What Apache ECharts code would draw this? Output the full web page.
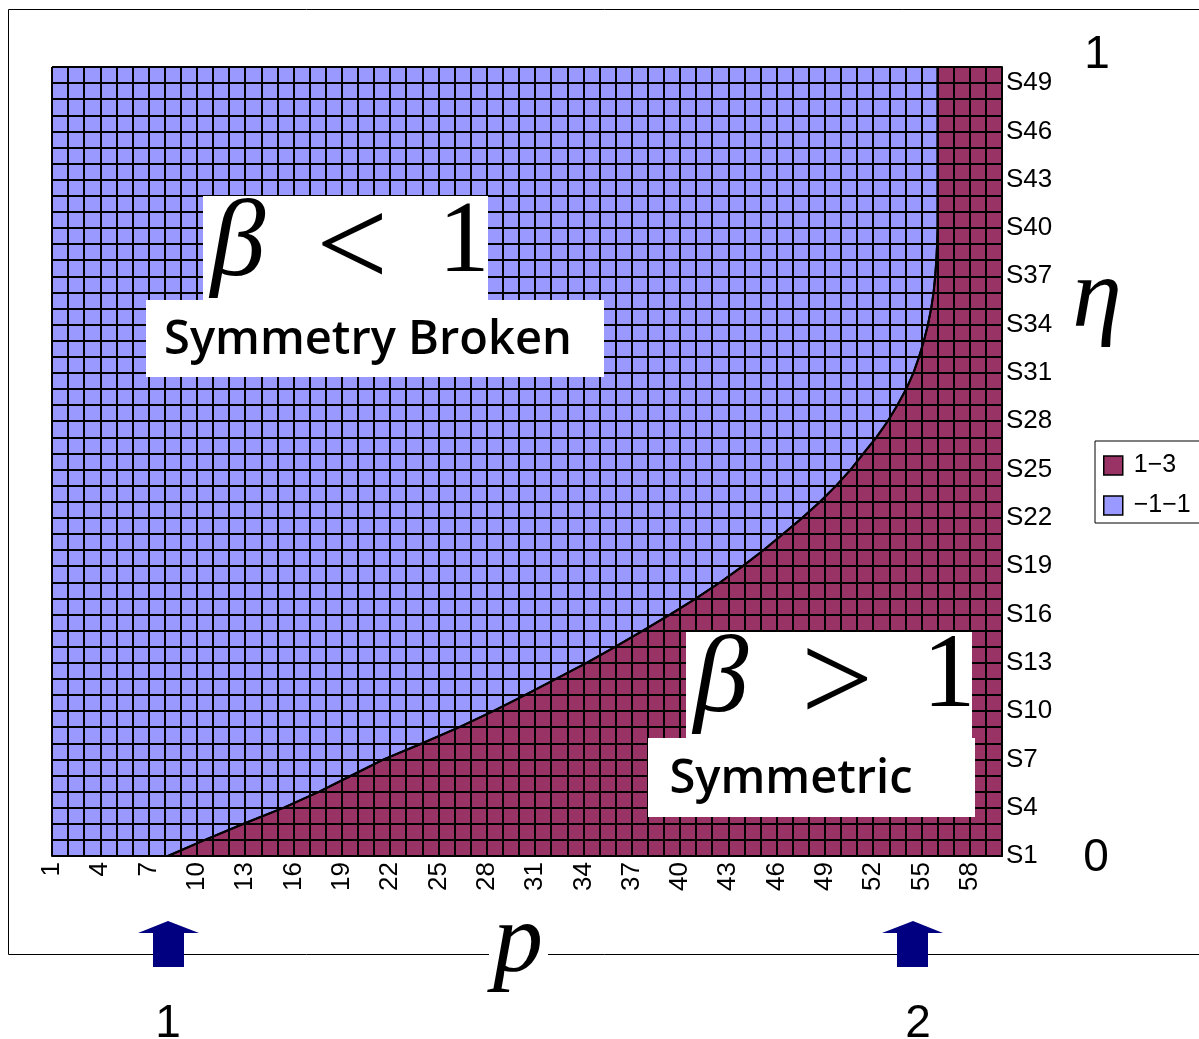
<!DOCTYPE html>
<html><head><meta charset="utf-8">
<style>html,body{margin:0;padding:0;background:#fff}#c{width:1199px;height:1039px}</style>
<script src="https://cdn.jsdelivr.net/npm/echarts@6.0.0/dist/echarts.min.js"></script>
</head><body><div id="c"></div>
<script>
// p categories (columns) 1..60
const pCategories = [1,2,3,4,5,6,7,8,9,10,11,12,13,14,15,16,17,18,19,20,21,22,23,24,25,26,27,28,29,30,
  31,32,33,34,35,36,37,38,39,40,41,42,43,44,45,46,47,48,49,50,51,52,53,54,55,56,57,58,59,60];
// eta series (rows) S1..S50
const etaSeries = ['S1','S2','S3','S4','S5','S6','S7','S8','S9','S10','S11','S12','S13','S14','S15','S16','S17','S18','S19','S20',
  'S21','S22','S23','S24','S25','S26','S27','S28','S29','S30','S31','S32','S33','S34','S35','S36','S37','S38','S39','S40',
  'S41','S42','S43','S44','S45','S46','S47','S48','S49','S50'];
const xTickLabels = ['1','4','7','10','13','16','19','22','25','28','31','34','37','40','43','46','49','52','55','58'];
const yTickLabels = ['S1','S4','S7','S10','S13','S16','S19','S22','S25','S28','S31','S34','S37','S40','S43','S46','S49'];
// p at which the surface crosses value 1 on each row S1..S50
const boundaryP = [8.2,10.5,12.9,15.4,17.6,19.6,21.6,24.0,26.3,28.4,30.4,32.3,34.2,36.0,37.7,39.4,41.0,42.5,43.9,45.2,
  46.4,47.6,48.7,49.7,50.6,51.4,52.2,52.9,53.5,54.05,54.5,54.85,55.15,55.4,55.6,55.75,55.85,55.92,55.97,56.0,
  56.0,56.0,56.0,56.0,56.0,56.0,56.0,56.0,56.0,56.0];
const seriesNames = ['1\u22123', '\u22121\u22121'];
const seriesColors = ['#993366', '#9999FF'];

const pMin = pCategories[0], pMax = pCategories[pCategories.length - 1];
const eMax = etaSeries.length;
const symData = boundaryP.map((p, i) => [p, i + 1]);
symData.push([pMax, eMax]);
const brokenData = [[pMin, eMax], [pMax, eMax]];

const chart = echarts.init(document.getElementById('c'));
const serifI = 'Liberation Serif';
chart.setOption({
  animation: false,
  backgroundColor: '#fff',
  grid: { left: 52, top: 67, right: 197, bottom: 183, containLabel: false, outerBoundsMode: 'none' },
  xAxis: {
    type: 'value', min: pMin, max: pMax, interval: 1, z: 5,
    axisLine: { show: true, onZero: false, lineStyle: { color: '#000', width: 2 } },
    axisTick: { show: false },
    splitLine: { show: true, lineStyle: { color: '#000', width: 2 } },
    axisLabel: {
      rotate: 90, margin: 6, fontSize: 26, color: '#000', fontFamily: 'Liberation Sans Narrow, Liberation Sans',
      showMinLabel: true, showMaxLabel: true,
      formatter: v => xTickLabels.indexOf(String(v)) >= 0 ? String(v) : ''
    }
  },
  yAxis: {
    type: 'value', min: 1, max: eMax, interval: 1, position: 'right', z: 5,
    axisLine: { show: true, onZero: false, lineStyle: { color: '#000', width: 2 } },
    axisTick: { show: false },
    splitLine: { show: true, lineStyle: { color: '#000', width: 2 } },
    axisLabel: {
      margin: 4, fontSize: 26, color: '#000', fontFamily: 'Liberation Sans',
      showMinLabel: true, showMaxLabel: true,
      formatter: v => { const n = etaSeries[v - 1]; return yTickLabels.indexOf(n) >= 0 ? n : ''; }
    }
  },
  legend: {
    orient: 'vertical', left: 1095, top: 441,
    padding: [12, 30, 5, 8], itemGap: 15, itemWidth: 19, itemHeight: 19,
    borderColor: '#000', borderWidth: 1, borderRadius: 0,
    icon: 'rect',
    textStyle: { fontSize: 25, lineHeight: 25, color: '#000', fontFamily: 'Liberation Sans', padding: [0, 0, 0, 6] },
    data: [
      { name: seriesNames[0], itemStyle: { color: seriesColors[0], borderColor: '#000', borderWidth: 1.5 } },
      { name: seriesNames[1], itemStyle: { color: seriesColors[1], borderColor: '#000', borderWidth: 1.5 } }
    ]
  },
  series: [
    {
      name: seriesNames[1], type: 'line', z: 1, data: brokenData, showSymbol: false, color: seriesColors[1],
      lineStyle: { width: 0 }, areaStyle: { color: seriesColors[1], opacity: 1, origin: 'start' }
    },
    {
      name: seriesNames[0], type: 'line', z: 2, data: symData, showSymbol: false, color: seriesColors[0],
      lineStyle: { width: 2, color: '#000' }, areaStyle: { color: seriesColors[0], opacity: 1, origin: 'start' }
    },
    {
      name: 'boundary', type: 'line', z: 10, data: symData.slice(0, boundaryP.length), showSymbol: false,
      lineStyle: { width: 2, color: '#000' }, silent: true
    }
  ],
  graphic: [
    { type: 'rect', z: 0, shape: { x: 8.5, y: 9.5, width: 1300, height: 945 }, style: { fill: 'none', stroke: '#000', lineWidth: 1 } },
    { type: 'rect', z: 50, shape: { x: 489, y: 945, width: 59, height: 20 }, style: { fill: '#fff' } },
    { type: 'text', z: 51, style: { x: 518, y: 945, text: 'p', font: 'italic 100px ' + serifI, fill: '#000', textAlign: 'center', textVerticalAlign: 'middle' } },
    { type: 'text', z: 51, style: { x: 1097, y: 300, text: '\u03b7', font: 'italic 100px ' + serifI, fill: '#000', textAlign: 'center', textVerticalAlign: 'middle' } },
    { type: 'polygon', z: 51, shape: { points: [[168,921],[199,933],[184,933],[184,967],[153,967],[153,933],[138,933]] }, style: { fill: '#000080' } },
    { type: 'polygon', z: 51, shape: { points: [[913,921],[943,933],[928,933],[928,967],[897,967],[897,933],[882,933]] }, style: { fill: '#000080' } },
    { type: 'text', z: 51, style: { x: 1097, y: 55, text: '1', font: '46px Liberation Sans', fill: '#000', textAlign: 'center', textVerticalAlign: 'middle' } },
    { type: 'text', z: 51, style: { x: 1096, y: 858, text: '0', font: '46px Liberation Sans', fill: '#000', textAlign: 'center', textVerticalAlign: 'middle' } },
    { type: 'text', z: 51, style: { x: 168, y: 1024, text: '1', font: '46px Liberation Sans', fill: '#000', textAlign: 'center', textVerticalAlign: 'middle' } },
    { type: 'text', z: 51, style: { x: 918, y: 1024, text: '2', font: '46px Liberation Sans', fill: '#000', textAlign: 'center', textVerticalAlign: 'middle' } },
    // beta < 1 box
    { type: 'rect', z: 60, shape: { x: 203, y: 196, width: 285, height: 105 }, style: { fill: '#fff' } },
    { type: 'rect', z: 60, shape: { x: 146, y: 300, width: 458, height: 77 }, style: { fill: '#fff' } },
    { type: 'text', z: 61, style: { x: 238, y: 246, text: '\u03b2', font: 'italic 110px ' + serifI, fill: '#000', textAlign: 'center', textVerticalAlign: 'middle' } },
    { type: 'text', z: 61, style: { x: 352, y: 252, text: '<', font: '128px ' + serifI, fill: '#000', textAlign: 'center', textVerticalAlign: 'middle' } },
    { type: 'text', z: 61, style: { x: 464, y: 244, text: '1', font: '102px ' + serifI, fill: '#000', textAlign: 'center', textVerticalAlign: 'middle' } },
    { type: 'text', z: 61, style: { x: 368, y: 341, text: 'Symmetry Broken', font: '600 47px Open Sans', fill: '#000', textAlign: 'center', textVerticalAlign: 'middle' } },
    // beta > 1 box
    { type: 'rect', z: 60, shape: { x: 686, y: 632, width: 286, height: 106 }, style: { fill: '#fff' } },
    { type: 'rect', z: 60, shape: { x: 648, y: 738, width: 327, height: 79 }, style: { fill: '#fff' } },
    { type: 'text', z: 61, style: { x: 721, y: 682, text: '\u03b2', font: 'italic 110px ' + serifI, fill: '#000', textAlign: 'center', textVerticalAlign: 'middle' } },
    { type: 'text', z: 61, style: { x: 837, y: 687, text: '>', font: '128px ' + serifI, fill: '#000', textAlign: 'center', textVerticalAlign: 'middle' } },
    { type: 'text', z: 61, style: { x: 949, y: 678, text: '1', font: '106px ' + serifI, fill: '#000', textAlign: 'center', textVerticalAlign: 'middle' } },
    { type: 'text', z: 61, style: { x: 791, y: 780, text: 'Symmetric', font: '600 47px Open Sans', fill: '#000', textAlign: 'center', textVerticalAlign: 'middle' } }
  ]
});
</script>
</body></html>
